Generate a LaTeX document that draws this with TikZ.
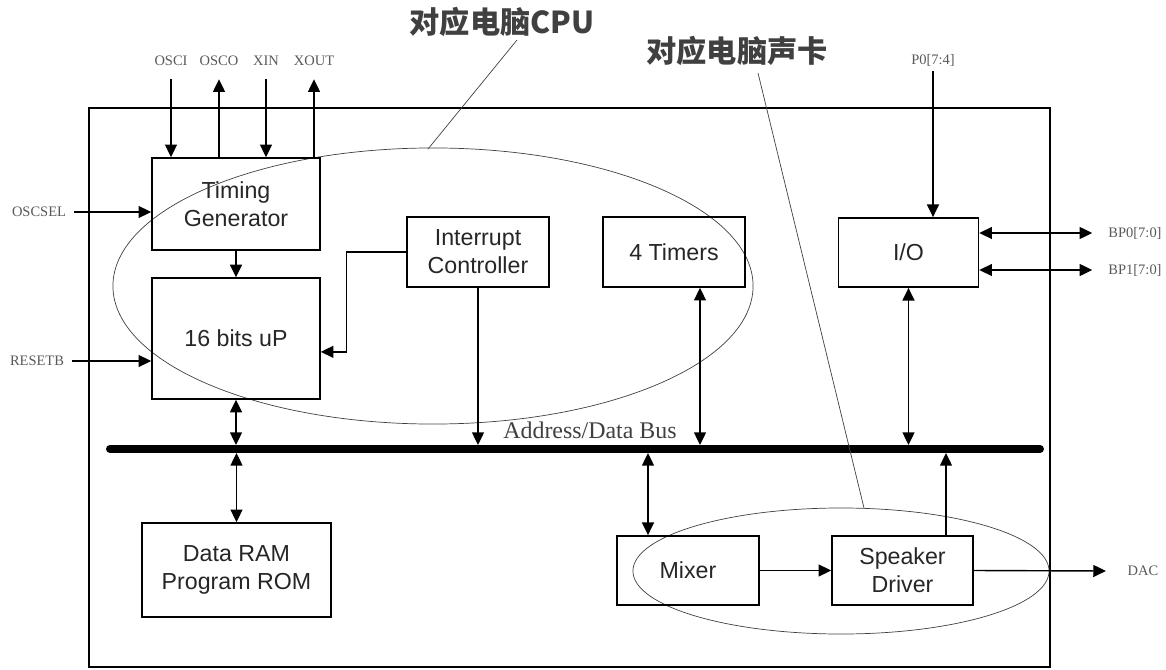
\documentclass[tikz,border=0pt]{standalone}
\usepackage{fontspec}
\setmainfont{Liberation Serif}
\setsansfont{Liberation Sans}
\newfontfamily\cjk{Noto Sans CJK SC}
\usetikzlibrary{arrows.meta}

\begin{document}
\begin{tikzpicture}[x=0.025cm,y=-0.025cm,line width=1pt,
    >={Triangle[length=9pt,width=8.5pt]},
    blk/.style={draw,line width=1.1pt,inner sep=0pt,align=center,text=black!85,
      font=\sffamily\fontsize{16.5}{20}\selectfont},
    pin/.style={inner sep=0pt,text=black!65,font=\fontsize{10.3}{12}\selectfont},
    note/.style={inner sep=0pt,text=black!75,font=\cjk\bfseries\fontsize{21.5}{24}\selectfont},
    ring/.style={line width=0.5pt,black!75},
    bus/.style={line width=5.7pt,line cap=round}]
  \useasboundingbox (0,0) rectangle (1166,670);

  % chip outline and the two groups
  \draw (89,108) rectangle (1050,667);
  \draw[ring] (433,286) ellipse [x radius=8cm,y radius=3.45cm];
  \draw[ring] (841,571) ellipse [x radius=5.2cm,y radius=1.575cm];

  % blocks
  \node[blk,minimum width=4.2cm,minimum height=2.3cm] (tg) at (236,204) {Timing\\Generator};
  \node[blk,minimum width=4.2cm,minimum height=3.02cm] (up) at (236,338.5) {16 bits uP};
  \node[blk,minimum width=3.55cm,minimum height=1.75cm] (ic) at (478,252) {Interrupt\\Controller};
  \node[blk,minimum width=3.55cm,minimum height=1.75cm] (tm) at (674,252) {4 Timers};
  \node[blk,minimum width=3.5cm,minimum height=1.73cm] (io) at (908.5,252.5) {I/O};
  \node[blk,minimum width=4.725cm,minimum height=2.35cm] (ram) at (236.5,570) {Data RAM\\Program ROM};
  \node[blk,minimum width=3.55cm,minimum height=1.73cm] (mix) at (688,570.5) {Mixer};
  \node[blk,minimum width=3.525cm,minimum height=1.73cm] (spk) at (902.5,570.5) {Speaker\\Driver};

  % bus
  \coordinate (busL) at (110,449);
  \coordinate (busR) at (1040,449);
  \coordinate (busT) at (0,445);
  \coordinate (busB) at (0,453);
  \draw[bus] (busL) -- (busR);
  \node[font=\fontsize{17}{20}\selectfont,text=black!75,inner sep=0pt] (busLbl) at (590,430) {Address/Data Bus};

  % pins
  \foreach \nm/\x/\txt in {osci/171/OSCI,osco/219/OSCO,xin/266/XIN,xout/314/XOUT}
    \node[pin] (\nm) at (\x,61) {\txt};
  \node[pin] (oscsel) at (39,212) {OSCSEL};
  \node[pin] (resetb) at (37,361) {RESETB};
  \node[pin] (p0) at (933,60) {P0[7:4]};
  \node[pin] (bp0) at (1135,233) {BP0[7:0]};
  \node[pin] (bp1) at (1135,270) {BP1[7:0]};
  \node[pin] (dac) at (1143,571) {DAC};

  \draw[->] ([yshift=-9pt]osci.south) -- (osci |- tg.north);
  \draw[->] (osco |- tg.north) -- ([yshift=-9pt]osco.south);
  \draw[->] ([yshift=-9pt]xin.south) -- (xin |- tg.north);
  \draw[->] (xout |- tg.north) -- ([yshift=-9pt]xout.south);
  \draw[->] ([xshift=5pt]oscsel.east) -- (oscsel -| tg.west);
  \draw[->] ([xshift=5pt]resetb.east) -- (resetb -| up.west);
  \draw[->] ([yshift=-3pt]p0.south) -- (p0 |- io.north);
  \draw[<->] (bp0 -| io.east) -- ([xshift=-11pt]bp0.west);
  \draw[<->] (bp1 -| io.east) -- ([xshift=-11pt]bp1.west);
  \draw[->] (spk.east) -- ([xshift=-15pt]dac.west);

  % inside
  \draw[->] (tg.south) -- (up.north);
  \draw[->] (ic.west) -- ++(-60,0) |- ([yshift=-9.5pt]up.east);
  \draw[->] (ic.south) -- (ic.south |- busT);
  \draw[<->] (700,0 |- tm.south) -- (700,0 |- busT);
  \draw[<->] (io.south) -- (io.south |- busT);
  \draw[<->] (up.south) -- (up.south |- busT);
  \draw[<->] (ram.north |- busB) -- (ram.north);
  \draw[<->] (648,0 |- busB) -- (648,0 |- mix.north);
  \draw[->] (946,0 |- spk.north) -- (946,0 |- busB);
  \draw[->] (mix) -- (spk);

  % notes
  \node[note] (cpuNote) at (502,22) {对应电脑CPU};
  \node[note] (sndNote) at (737,51) {对应电脑声卡};
  \coordinate (cpuFrom) at (517,40);
  \coordinate (cpuTo) at (428,149);
  \coordinate (sndFrom) at (758,73);
  \coordinate (sndTo) at (864,508);
  \draw[ring] (cpuFrom) -- (cpuTo);
  \draw[ring] (sndFrom) -- (sndTo);
\end{tikzpicture}
\end{document}
